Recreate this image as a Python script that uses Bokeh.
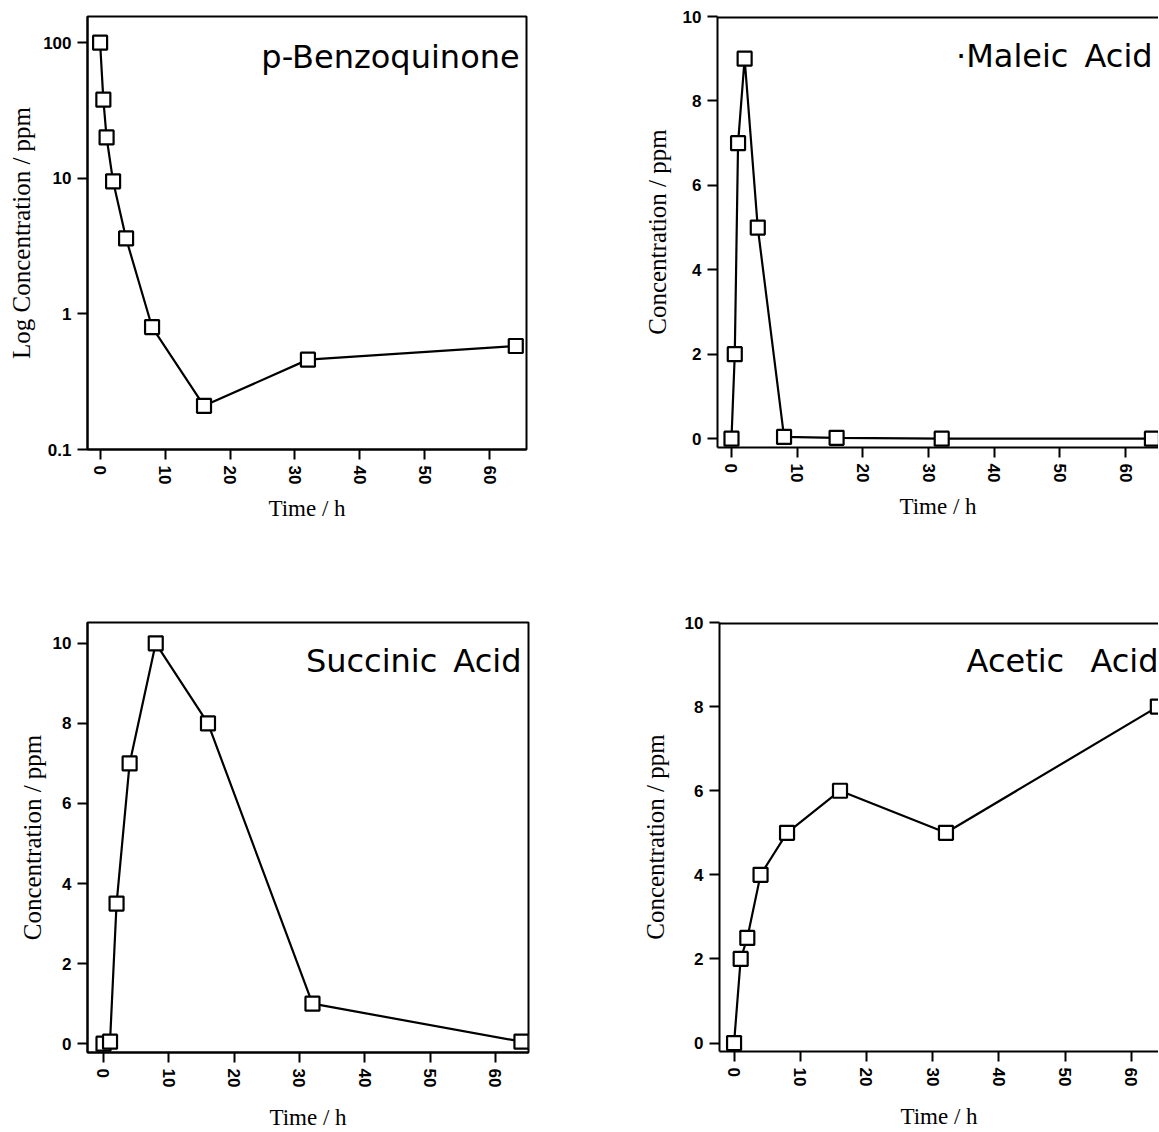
from bokeh.plotting import figure
from bokeh.models import FixedTicker, Span, Label
from bokeh.layouts import row, column
from bokeh.embed import file_html
from bokeh.resources import INLINE

# ---- data ----
time_h = [0, 0.5, 1, 2, 4, 8, 16, 32, 64]
benzoquinone = [100, 38, 20, 9.5, 3.6, 0.8, 0.21, 0.46, 0.58]
maleic_acid = [0, 2, 7, 9, 5, 0.04, 0.02, 0, 0]
time_h_b = [0, 1, 2, 4, 8, 16, 32, 64]
succinic_acid = [0, 0.05, 3.5, 7, 10, 8, 1, 0.05]
acetic_acid = [0, 2, 2.5, 4, 5, 6, 5, 8]

x_ticks = [0, 10, 20, 30, 40, 50, 60]
lin_ticks = [0, 2, 4, 6, 8, 10]
log_ticks = [0.1, 1, 10, 100]
log_tick_labels = ["0.1", "1", "10", "100"]
titles = ["p-Benzoquinone", "\u00b7Maleic\u2002Acid", "Succinic\u2002Acid",
          "Acetic\u2002\u00a0Acid"]
x_label = "Time / h"
y_labels = ["Log Concentration / ppm", "Concentration / ppm",
            "Concentration / ppm", "Concentration / ppm"]


def make(fw, fh, bl, br, bt, bb, xr, yr, log=False, box=True):
    p = figure(frame_width=fw, frame_height=fh,
               min_border_left=bl, min_border_right=br,
               min_border_top=bt, min_border_bottom=bb,
               x_range=xr, y_range=yr,
               y_axis_type="log" if log else "linear",
               output_backend="svg", toolbar_location=None)
    p.grid.visible = False
    p.background_fill_color = "white"
    p.border_fill_color = "white"
    if box:
        p.outline_line_color = "black"
        p.outline_line_width = 2
        p.outline_line_alpha = 1
    else:
        p.outline_line_color = None
        p.add_layout(Span(location=yr[1], dimension="width",
                          line_color="black", line_width=4))
    return p


def style(p, ylab, xstand, ystand, log=False):
    p.xaxis.ticker = FixedTicker(ticks=x_ticks)
    if log:
        p.yaxis.ticker = FixedTicker(ticks=log_ticks)
        p.yaxis.major_label_overrides = {t: l for t, l in zip(log_ticks, log_tick_labels)}
    else:
        p.yaxis.ticker = FixedTicker(ticks=lin_ticks)
    for ax in (p.xaxis[0], p.yaxis[0]):
        ax.axis_line_width = 2
        ax.axis_line_color = "black"
        ax.major_tick_line_width = 2
        ax.major_tick_line_color = "black"
        ax.major_tick_out = 10
        ax.major_tick_in = 0
        ax.minor_tick_line_color = None
        ax.major_label_text_font = "Liberation Sans"
        ax.major_label_text_font_style = "bold"
        ax.major_label_text_font_size = "17px"
        ax.major_label_text_color = "black"
        ax.major_label_standoff = 6
        ax.axis_label_text_font = "Liberation Serif"
        ax.axis_label_text_font_style = "normal"
        ax.axis_label_text_color = "black"
    p.xaxis.axis_label_text_font_size = "23px"
    p.yaxis.axis_label_text_font_size = "25px"
    p.xaxis.major_label_orientation = "vertical"
    p.xaxis.axis_label = x_label
    p.yaxis.axis_label = ylab
    p.xaxis.axis_label_standoff = xstand
    p.yaxis.axis_label_standoff = ystand


def series(p, xs, ys):
    p.line(xs, ys, line_color="black", line_width=2.2)
    p.scatter(xs, ys, marker="square", size=14, fill_color="white",
              line_color="black", line_width=2.2)


def title(p, text, x, y):
    p.add_layout(Label(x=x, y=y, text=text, text_align="right",
                       text_baseline="alphabetic",
                       text_font="DejaVu Sans", text_font_size="32px",
                       text_color="black"))


p1 = make(439, 433, 87, 34, 13, 154, (-1.94, 65.65), (0.1, 156), log=True)
style(p1, y_labels[0], 9, 5, log=True)
series(p1, time_h, benzoquinone)
title(p1, titles[0], 64.6, 79)

p2 = make(441, 431, 157, 0, 16, 153, (-2.13, 65.0), (-0.21, 10.0), box=False)
style(p2, y_labels[1], 9, 9)
series(p2, time_h, maleic_acid)
title(p2, titles[1], 64.1, 9.06)

p3 = make(441, 430, 87, 32, 22, 78, (-2.45, 65.08), (-0.22, 10.52))
style(p3, y_labels[2], 15, 4)
series(p3, time_h_b, succinic_acid)
title(p3, titles[2], 64.0, 9.57)

p4 = make(439, 429, 159, 0, 21, 80, (-2.2, 64.1), (-0.2, 10.0), box=False)
style(p4, y_labels[3], 15, 13)
series(p4, time_h_b, acetic_acid)
title(p4, titles[3], 64.1, 9.08)

layout = column(row(p1, p2), row(p3, p4))

open("out.html", "w").write(file_html(layout, INLINE))
